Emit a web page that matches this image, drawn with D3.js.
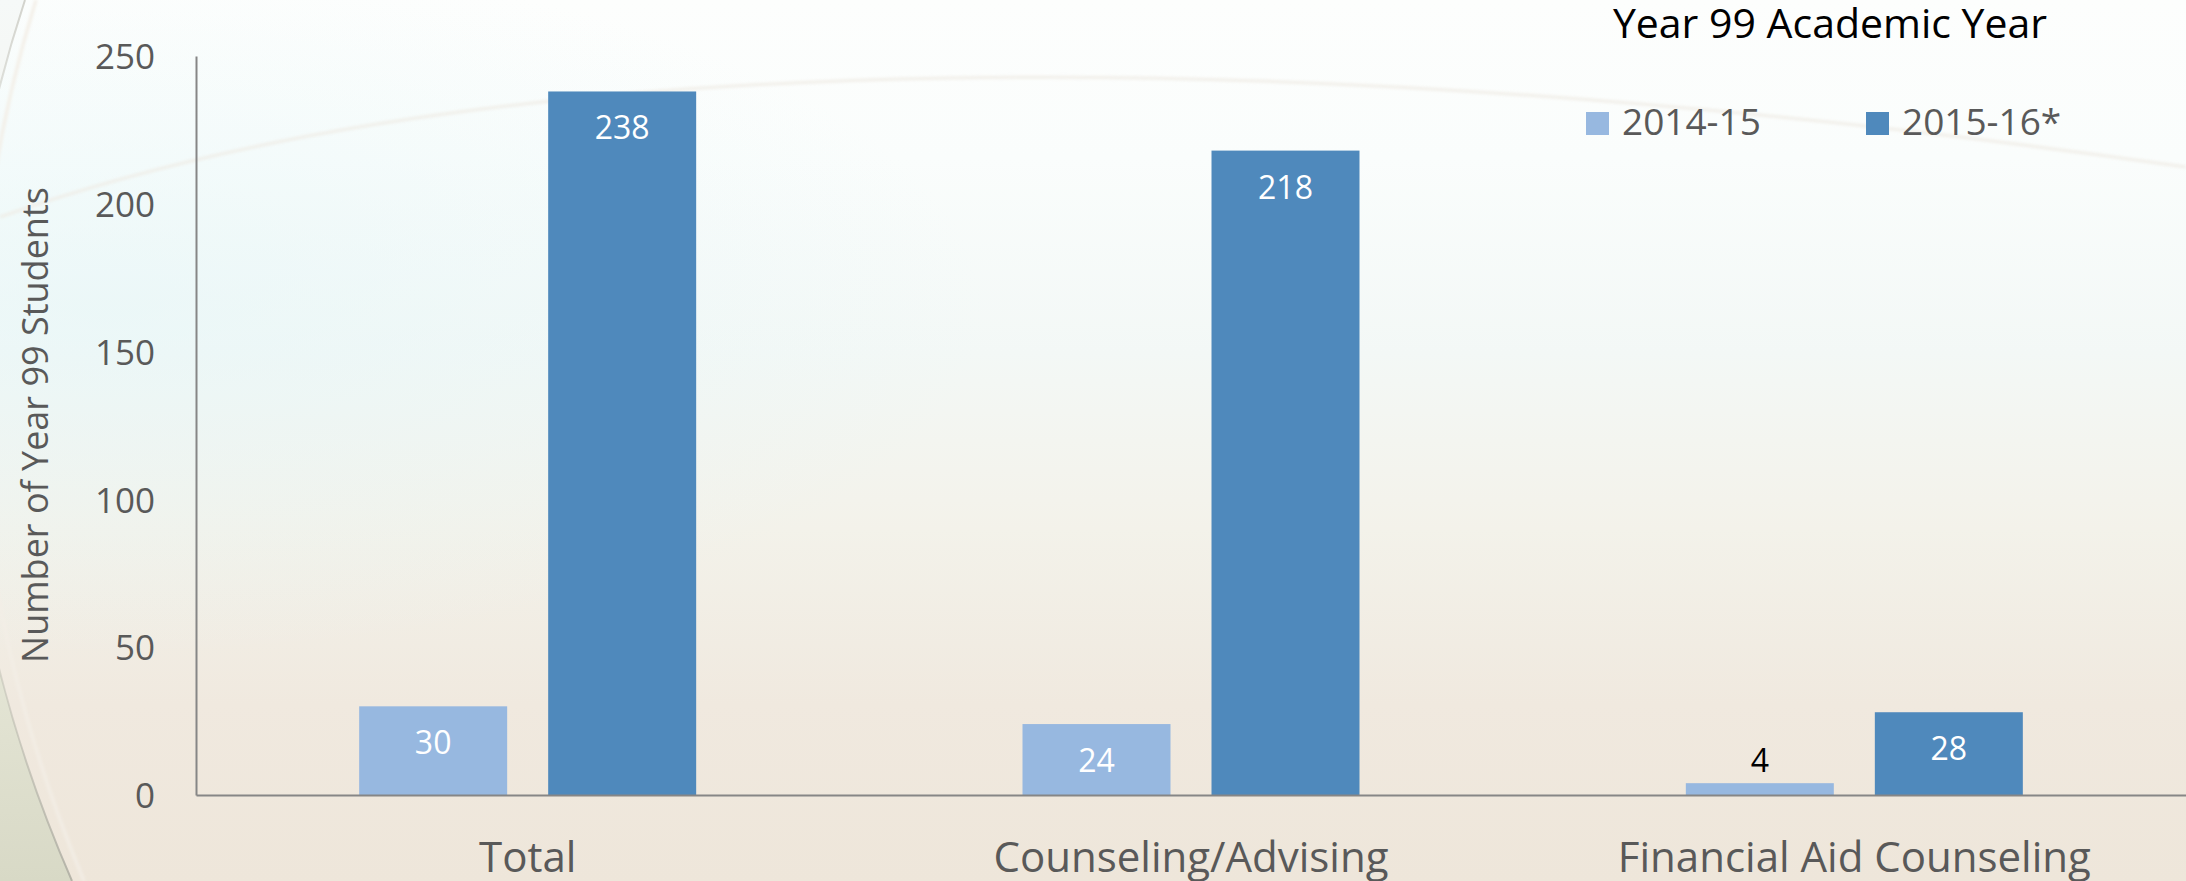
<!DOCTYPE html>
<html>
<head>
<meta charset="utf-8">
<script src="https://cdn.jsdelivr.net/npm/d3@7"></script>
<style>
  html, body { margin: 0; padding: 0; background: #ffffff; }
  svg { display: block; }
  text { font-family: "Open Sans", "Noto Sans", sans-serif; }
</style>
</head>
<body>
<svg id="chart" width="2186" height="881"></svg>
<script>
const categories = ["Total", "Counseling/Advising", "Financial Aid Counseling"];
const series = ["2014-15", "2015-16*"];
const values2014 = [30, 24, 4];
const values2015 = [238, 218, 28];
const yTicks = [0, 50, 100, 150, 200, 250];
const chartTitle = "Year 99 Academic Year";
const yTitle = "Number of Year 99 Students";
const colors = ["#97b8e0", "#4f89bc"];

const W = 2186, H = 881;
const svg = d3.select("#chart");
const defs = svg.append("defs");

// background gradients
const bg = defs.append("linearGradient").attr("id", "bgv").attr("x1", 0).attr("y1", 0).attr("x2", 0).attr("y2", 1);
[["0%", "#fdfefd"], ["18%", "#fafdfc"], ["40%", "#f3f8f6"], ["60%", "#f3f2ea"], ["80%", "#f0e9df"], ["100%", "#eee6da"]]
  .forEach(([o, c]) => bg.append("stop").attr("offset", o).attr("stop-color", c));
const rg = defs.append("radialGradient").attr("id", "cyan").attr("cx", 0.05).attr("cy", 0.35).attr("r", 0.4);
rg.append("stop").attr("offset", "0%").attr("stop-color", "#e4f6f8").attr("stop-opacity", 0.55);
rg.append("stop").attr("offset", "100%").attr("stop-color", "#e4f6f8").attr("stop-opacity", 0);
const edge = defs.append("linearGradient").attr("id", "edge").attr("x1", 0).attr("y1", 0).attr("x2", 0).attr("y2", 1);
edge.append("stop").attr("offset", "0%").attr("stop-color", "#f6f9f8");
edge.append("stop").attr("offset", "60%").attr("stop-color", "#eceddf");
edge.append("stop").attr("offset", "100%").attr("stop-color", "#d8d9c6");
const edgeLine = defs.append("linearGradient").attr("id", "edgeLine").attr("x1", 0).attr("y1", 0).attr("x2", 0).attr("y2", 1);
edgeLine.append("stop").attr("offset", "0%").attr("stop-color", "#b9b8ae").attr("stop-opacity", 0.6);
edgeLine.append("stop").attr("offset", "25%").attr("stop-color", "#b9b8ae").attr("stop-opacity", 0.1);
edgeLine.append("stop").attr("offset", "70%").attr("stop-color", "#b9b8ae").attr("stop-opacity", 0.3);
edgeLine.append("stop").attr("offset", "100%").attr("stop-color", "#a9a89e").attr("stop-opacity", 0.8);
defs.append("filter").attr("id", "blur").append("feGaussianBlur").attr("stdDeviation", 1.5);

svg.append("rect").attr("width", W).attr("height", H).attr("fill", "url(#bgv)");
svg.append("rect").attr("width", W).attr("height", H).attr("fill", "url(#cyan)");
// faint arc
svg.append("path").attr("d", "M0,217 C500,40 1300,40 2186,167")
  .attr("fill", "none").attr("stroke", "#efebe4").attr("stroke-width", 3).attr("opacity", 0.8).attr("filter", "url(#blur)");
// left edge curve
svg.append("path").attr("d", "M25,0 Q-120,440 72,881 L0,881 L0,0 Z").attr("fill", "url(#edge)");
svg.append("path").attr("d", "M25,0 Q-120,440 72,881")
  .attr("fill", "none").attr("stroke", "url(#edgeLine)").attr("stroke-width", 2);
svg.append("path").attr("d", "M36,0 Q-100,440 84,881")
  .attr("fill", "none").attr("stroke", "#f3eee6").attr("stroke-width", 3).attr("filter", "url(#blur)");

// scales
const y = d3.scaleLinear().domain([0, 250]).range([795, 56]);
const x0 = d3.scaleBand().domain(categories).range([196, 2186]).padding(0);
const x1 = d3.scaleBand().domain(series).range([-168.5, 168.5]).paddingInner(0.217).paddingOuter(0);

const data = categories.map((c, i) => ({ cat: c, vals: [values2014[i], values2015[i]] }));

// bars
const groups = svg.append("g").selectAll("g").data(data).join("g")
  .attr("transform", d => `translate(${x0(d.cat) + x0.bandwidth() / 2},0)`);
groups.selectAll("rect").data(d => d.vals.map((v, j) => ({ s: series[j], v, j })))
  .join("rect")
  .attr("x", d => x1(d.s)).attr("width", x1.bandwidth())
  .attr("y", d => y(d.v)).attr("height", d => y(0) - y(d.v))
  .attr("fill", d => colors[d.j]);
groups.selectAll("text.val").data(d => d.vals.map((v, j) => ({ s: series[j], v, j })))
  .join("text").attr("class", "val")
  .attr("x", d => x1(d.s) + x1.bandwidth() / 2)
  .attr("y", d => (y(0) - y(d.v) > 60) ? y(d.v) + 48 : y(d.v) - 11)
  .attr("text-anchor", "middle")
  .attr("font-size", 32)
  .attr("fill", d => (y(0) - y(d.v) > 60) ? "#ffffff" : "#000000")
  .text(d => d.v);

// axes
const yAxis = d3.axisLeft(y).tickValues(yTicks).tickSize(0).tickPadding(41);
const gy = svg.append("g").attr("transform", "translate(196,0)").call(yAxis);
gy.select(".domain").attr("stroke", "#868686").attr("stroke-width", 2);
gy.selectAll("text").attr("font-size", 35).attr("fill", "#595959").attr("font-family", "Open Sans").attr("dy", "0.36em");

const xAxis = d3.axisBottom(x0).tickSize(0).tickPadding(47);
const gx = svg.append("g").attr("transform", "translate(0,795)").call(xAxis);
gx.select(".domain").attr("stroke", "#868686").attr("stroke-width", 2);
gx.selectAll("text").attr("font-size", 42).attr("fill", "#595959").attr("font-family", "Open Sans");

// y title
svg.append("text")
  .attr("transform", "translate(48,425) rotate(-90)")
  .attr("text-anchor", "middle")
  .attr("font-size", 36).attr("fill", "#595959")
  .text(yTitle);

// chart title
svg.append("text").attr("x", 1830).attr("y", 38).attr("text-anchor", "middle")
  .attr("font-size", 41).attr("fill", "#000000").text(chartTitle);

// legend
const legendX = [1586, 1866];
const lg = svg.append("g").selectAll("g").data(series).join("g")
  .attr("transform", (d, i) => `translate(${legendX[i]},0)`);
lg.append("rect").attr("x", 0).attr("y", 112).attr("width", 23).attr("height", 23).attr("fill", (d, i) => colors[i]);
lg.append("text").attr("x", 36).attr("y", 135).attr("font-size", 37).attr("fill", "#595959").text(d => d);
</script>
</body>
</html>
